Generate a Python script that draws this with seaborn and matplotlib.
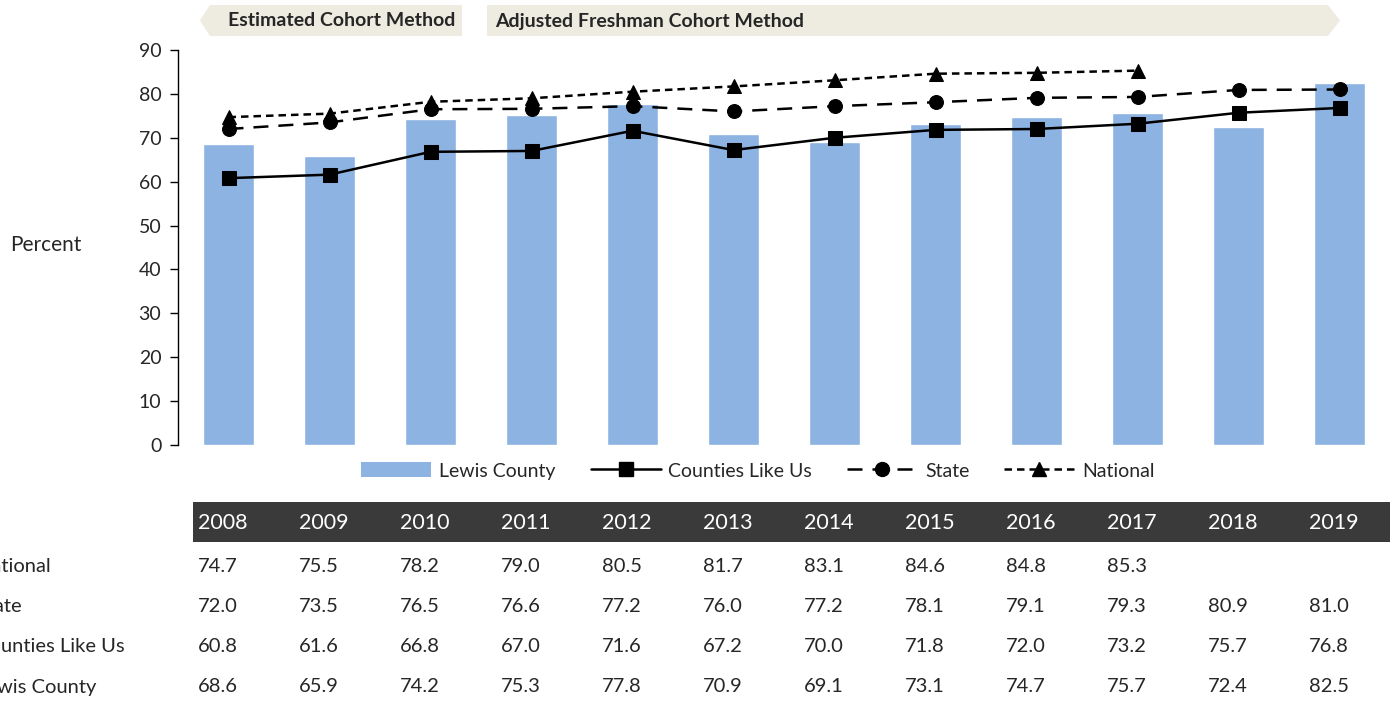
import numpy as np
import pandas as pd
import matplotlib
matplotlib.use("Agg")
import matplotlib.pyplot as plt
import seaborn as sns
from matplotlib.patches import Polygon, Patch
from matplotlib.lines import Line2D

years = ["2008", "2009", "2010", "2011", "2012", "2013",
         "2014", "2015", "2016", "2017", "2018", "2019"]
lewis_county = [68.6, 65.9, 74.2, 75.3, 77.8, 70.9, 69.1, 73.1, 74.7, 75.7, 72.4, 82.5]
counties_like_us = [60.8, 61.6, 66.8, 67.0, 71.6, 67.2, 70.0, 71.8, 72.0, 73.2, 75.7, 76.8]
state = [72.0, 73.5, 76.5, 76.6, 77.2, 76.0, 77.2, 78.1, 79.1, 79.3, 80.9, 81.0]
national = [74.7, 75.5, 78.2, 79.0, 80.5, 81.7, 83.1, 84.6, 84.8, 85.3, np.nan, np.nan]
table_rows = ["National", "State", "Counties Like Us", "Lewis County"]

sns.set_theme(style="white")
plt.rcParams["font.family"] = ["Lato", "DejaVu Sans"]

W, H = 1396, 702
fig = plt.figure(figsize=(W / 100, H / 100), dpi=100)
ax = fig.add_axes([178 / W, 1 - 445 / H, (1390 - 178) / W, (445 - 50) / H])

df = pd.DataFrame({"year": years, "pos": np.arange(len(years)),
                   "lewis": lewis_county, "clu": counties_like_us,
                   "state": state, "national": national})

bar_color = "#8DB3E2"
state_dash = (0, (6, 4))
nat_dash = (0, (3, 2))
sns.barplot(data=df, x="year", y="lewis", color=bar_color, width=0.5,
            saturation=1, errorbar=None, ax=ax)
sns.lineplot(data=df, x="pos", y="clu", color="black", lw=1.8, marker="s",
             markersize=10, markeredgecolor="black", ax=ax)
sns.lineplot(data=df, x="pos", y="state", color="black", lw=1.8, marker="o",
             markersize=10, markeredgecolor="black", linestyle=state_dash, ax=ax)
sns.lineplot(data=df.dropna(), x="pos", y="national", color="black", lw=1.8,
             marker="^", markersize=10, markeredgecolor="black",
             linestyle=nat_dash, ax=ax)

ax.set_xlim(-0.5, len(years) - 0.5)
ax.set_ylim(0, 90)
ax.set_yticks(range(0, 91, 10))
ax.set_xticks([])
ax.set_xlabel("")
ax.set_ylabel("")
for s in ["top", "right", "bottom"]:
    ax.spines[s].set_visible(False)
ax.spines["left"].set_color("black")
ax.spines["left"].set_linewidth(1)
ax.tick_params(axis="y", direction="out", length=6, width=1, color="black",
               labelsize=14, left=True, pad=6)
fig.text(46 / W, 1 - 245 / H, "Percent", fontsize=15, ha="center", va="center")

# legend
handles = [
    Patch(facecolor=bar_color, edgecolor="none"),
    Line2D([], [], color="black", lw=1.8, marker="s", markersize=10),
    Line2D([], [], color="black", lw=1.8, marker="o", markersize=10, linestyle=state_dash),
    Line2D([], [], color="black", lw=1.8, marker="^", markersize=10, linestyle=nat_dash),
]
labels = ["Lewis County", "Counties Like Us", "State", "National"]
fig.legend(handles, labels, loc="center", bbox_to_anchor=(758 / W, 1 - 471 / H),
           ncol=4, frameon=False, fontsize=14, handlelength=3.6, handleheight=0.8,
           columnspacing=1.8, handletextpad=0.4)

# banner shapes above the plot
band = "#EEEBE0"
def fx(px):
    return px / W
def fy(py):
    return 1 - py / H
left_poly = [(210, 5), (462, 5), (462, 36), (210, 36), (200, 20.5)]
right_poly = [(487, 5), (1328, 5), (1340, 20.5), (1328, 36), (487, 36)]
for poly in (left_poly, right_poly):
    fig.patches.append(Polygon([(fx(x), fy(y)) for x, y in poly], closed=True,
                               transform=fig.transFigure, facecolor=band,
                               edgecolor="none"))
fig.text(fx(228), fy(21), "Estimated Cohort Method", fontsize=14,
         fontweight="bold", ha="left", va="center")
fig.text(fx(495), fy(21), "Adjusted Freshman Cohort Method", fontsize=14,
         fontweight="bold", ha="left", va="center")

# data table under the chart
fig.patches.append(plt.Rectangle((fx(193), fy(542)), fx(1390 - 193), (542 - 502) / H,
                                 transform=fig.transFigure, facecolor="#3A3A3A",
                                 edgecolor="none"))
col_x = [fx(198 + 101 * i) for i in range(len(years))]
for x, yr in zip(col_x, years):
    fig.text(x, fy(523), yr, color="white", fontsize=15.5, ha="left", va="center")
row_values = [national, state, counties_like_us, lewis_county]
row_y = [567, 607, 647, 687]
for label, vals, ry in zip(table_rows, row_values, row_y):
    # row labels run off the left edge, as in the reference
    fig.text(fx(-24), fy(ry), label, fontsize=14.5, ha="left", va="center")
    for x, v in zip(col_x, vals):
        if not np.isnan(v):
            fig.text(x, fy(ry), f"{v:.1f}", fontsize=14.5, ha="left", va="center")

fig.savefig("out.png", dpi=100)
